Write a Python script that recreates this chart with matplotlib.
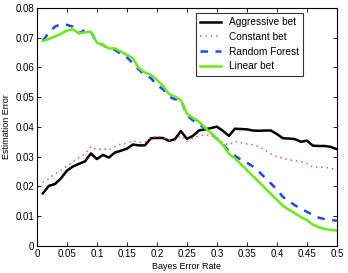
import numpy as np
import matplotlib
matplotlib.use("Agg")
import matplotlib.pyplot as plt

plt.rcParams['font.family'] = ['Liberation Sans', 'DejaVu Sans']

bayes_rate = np.round(np.arange(1, 51) * 0.01, 2)

aggressive = [0.0177, 0.0202, 0.0208, 0.0227, 0.0253, 0.0267, 0.0276, 0.0284, 0.0311, 0.0292,
              0.0306, 0.0297, 0.0314, 0.0320, 0.0327, 0.0341, 0.0338, 0.0338, 0.0362, 0.0363,
              0.0363, 0.0353, 0.0359, 0.0386, 0.0360, 0.0370, 0.0388, 0.0392, 0.0396, 0.0401,
              0.0387, 0.0370, 0.0394, 0.0393, 0.0392, 0.0388, 0.0387, 0.0388, 0.0388, 0.0376,
              0.0362, 0.0361, 0.0359, 0.0350, 0.0354, 0.0337, 0.0336, 0.0336, 0.0333, 0.0325]

constant = [0.0213, 0.0227, 0.0242, 0.0253, 0.0269, 0.0283, 0.0297, 0.0309, 0.0334, 0.0323,
            0.0327, 0.0323, 0.0334, 0.0343, 0.0345, 0.0354, 0.0348, 0.0348, 0.0365, 0.0368,
            0.0366, 0.0356, 0.0355, 0.0370, 0.0352, 0.0362, 0.0370, 0.0373, 0.0373, 0.0362,
            0.0347, 0.0340, 0.0351, 0.0347, 0.0343, 0.0340, 0.0334, 0.0323, 0.0309, 0.0300,
            0.0295, 0.0289, 0.0287, 0.0283, 0.0278, 0.0265, 0.0265, 0.0264, 0.0261, 0.0255]

random_forest = [0.0690, 0.0717, 0.0737, 0.0745, 0.0743, 0.0737, 0.0715, 0.0726, 0.0720, 0.0683,
                 0.0676, 0.0662, 0.0659, 0.0645, 0.0634, 0.0614, 0.0592, 0.0575, 0.0564, 0.0541,
                 0.0527, 0.0502, 0.0493, 0.0492, 0.0440, 0.0422, 0.0410, 0.0395, 0.0378, 0.0360,
                 0.0342, 0.0318, 0.0303, 0.0290, 0.0280, 0.0267, 0.0250, 0.0230, 0.0210, 0.0190,
                 0.0165, 0.0150, 0.0137, 0.0125, 0.0115, 0.0105, 0.0095, 0.0090, 0.0087, 0.0085]

linear = [0.0689, 0.0696, 0.0704, 0.0713, 0.0724, 0.0728, 0.0715, 0.0718, 0.0720, 0.0683,
          0.0676, 0.0664, 0.0664, 0.0653, 0.0642, 0.0631, 0.0597, 0.0583, 0.0575, 0.0558,
          0.0538, 0.0511, 0.0502, 0.0490, 0.0445, 0.0430, 0.0418, 0.0398, 0.0380, 0.0360,
          0.0340, 0.0310, 0.0295, 0.0275, 0.0255, 0.0235, 0.0215, 0.0195, 0.0175, 0.0155,
          0.0135, 0.0122, 0.0110, 0.0097, 0.0087, 0.0072, 0.0063, 0.0057, 0.0054, 0.0052]

fig = plt.figure(figsize=(3.48, 2.73), dpi=100)
ax = fig.add_axes([0.106, 0.099, 0.862, 0.872])

ax.plot(bayes_rate, aggressive, color='black', lw=1.8, label='Aggressive bet')
ax.plot(bayes_rate, constant, color='#ff5555', lw=1.1, ls=(0, (1, 2.5)), label='Constant bet')
ax.plot(bayes_rate, random_forest, color='#2244ff', lw=1.8, ls=(0, (3, 3)), label='Random Forest')
ax.plot(bayes_rate, linear, color='#66ee11', lw=1.8, label='Linear bet')

ax.set_xlim(0, 0.5)
ax.set_ylim(0, 0.08)
ax.set_xticks(np.arange(0, 0.51, 0.05))
ax.set_xticklabels(['0', '0.05', '0.1', '0.15', '0.2', '0.25', '0.3', '0.35', '0.4', '0.45', '0.5'])
ax.set_yticks(np.arange(0, 0.081, 0.01))
ax.set_yticklabels(['0', '0.01', '0.02', '0.03', '0.04', '0.05', '0.06', '0.07', '0.08'])
ax.tick_params(direction='in', top=True, right=True, labelsize=7, length=3, width=0.6, pad=2)
for s in ax.spines.values():
    s.set_linewidth(0.8)

ax.set_xlabel('Bayes Error Rate', fontsize=6.5, labelpad=2)
ax.set_ylabel('Estimation Error', fontsize=6.5, labelpad=3)

leg = ax.legend(loc='upper left', bbox_to_anchor=(0.53, 0.979), fontsize=7.3, frameon=True,
                fancybox=False, edgecolor='black', borderpad=0.45, labelspacing=0.45,
                handlelength=2.0, handletextpad=0.8, borderaxespad=0)
leg.get_frame().set_linewidth(0.8)

fig.savefig('out.png', dpi=100)
